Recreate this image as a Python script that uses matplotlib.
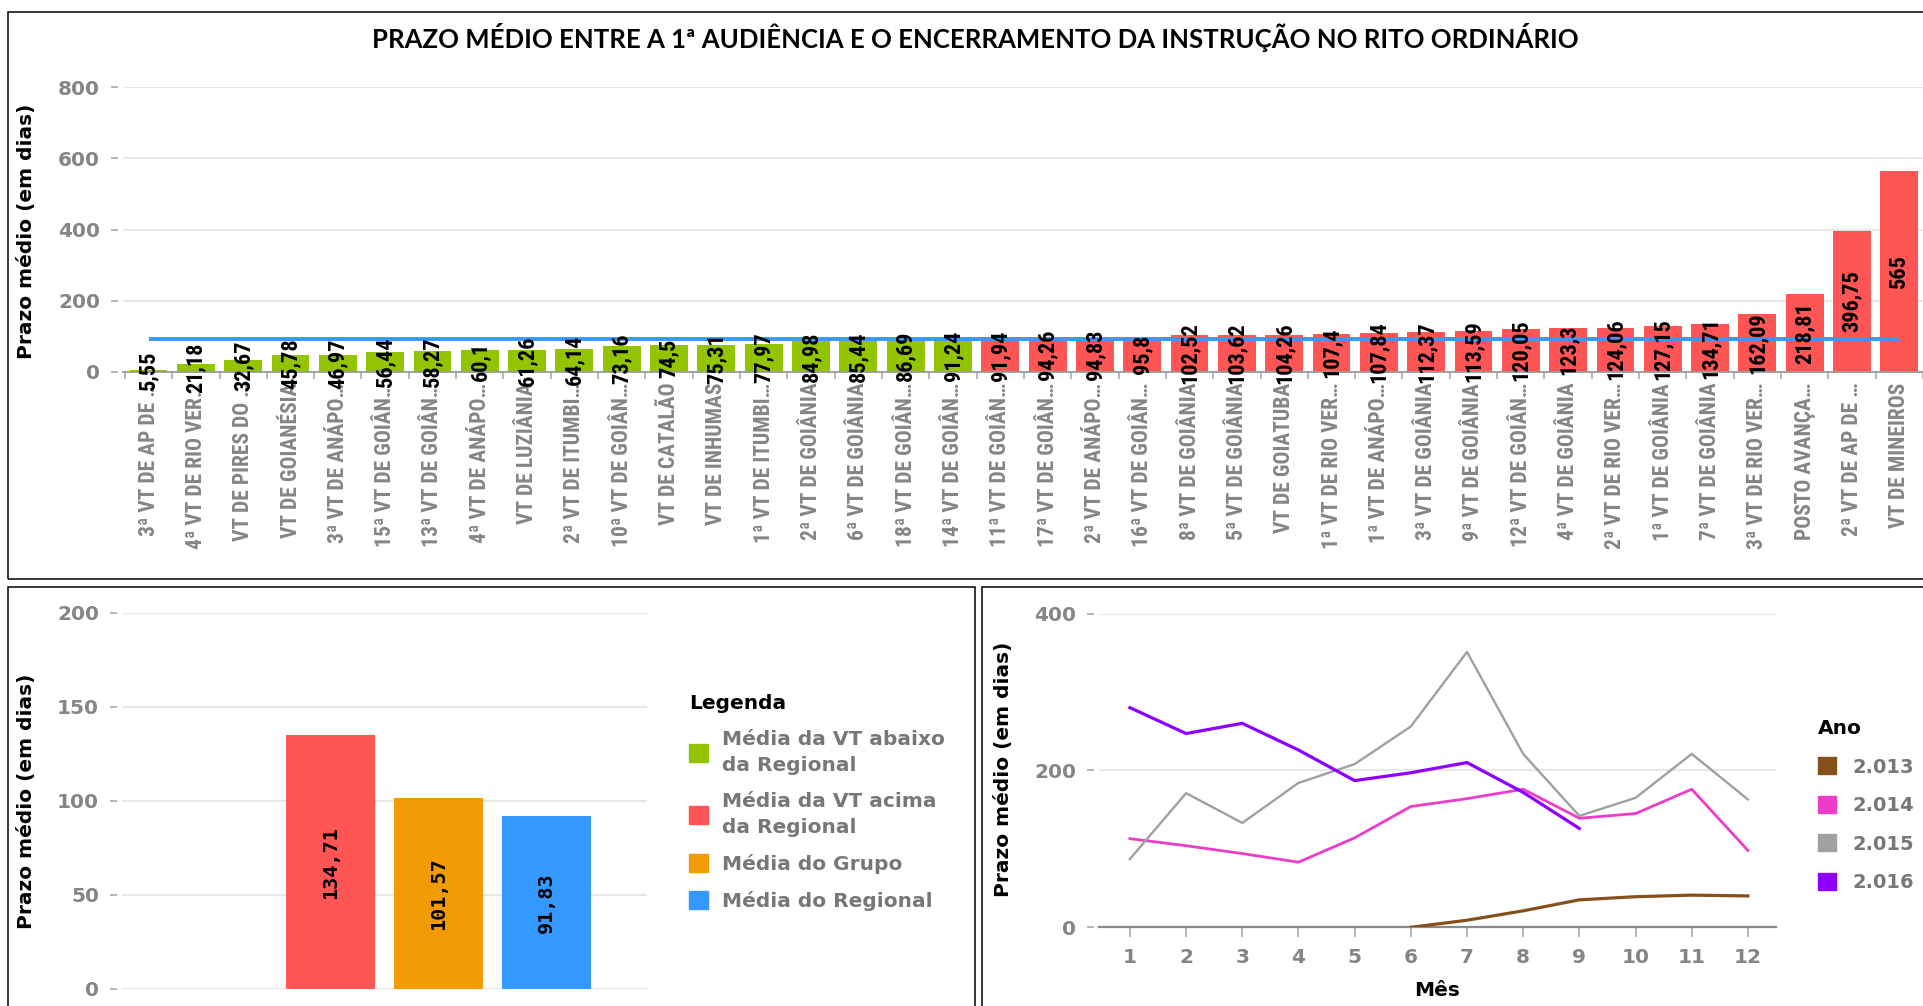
import numpy as np
import matplotlib
matplotlib.use("Agg")
import matplotlib.pyplot as plt
from matplotlib import font_manager as fm
from matplotlib.patches import Rectangle, Patch

# data
vt_labels = [
    "3ª VT DE AP DE …", "4ª VT DE RIO VER…", "VT DE PIRES DO …", "VT DE GOIANÉSIA",
    "3ª VT DE ANÁPO…", "15ª VT DE GOIÂN…", "13ª VT DE GOIÂN…", "4ª VT DE ANÁPO…",
    "VT DE LUZIÂNIA", "2ª VT DE ITUMBI…", "10ª VT DE GOIÂN…", "VT DE CATALÃO",
    "VT DE INHUMAS", "1ª VT DE ITUMBI…", "2ª VT DE GOIÂNIA", "6ª VT DE GOIÂNIA",
    "18ª VT DE GOIÂN…", "14ª VT DE GOIÂN…", "11ª VT DE GOIÂN…", "17ª VT DE GOIÂN…",
    "2ª VT DE ANÁPO…", "16ª VT DE GOIÂN…", "8ª VT DE GOIÂNIA", "5ª VT DE GOIÂNIA",
    "VT DE GOIATUBA", "1ª VT DE RIO VER…", "1ª VT DE ANÁPO…", "3ª VT DE GOIÂNIA",
    "9ª VT DE GOIÂNIA", "12ª VT DE GOIÂN…", "4ª VT DE GOIÂNIA", "2ª VT DE RIO VER…",
    "1ª VT DE GOIÂNIA", "7ª VT DE GOIÂNIA", "3ª VT DE RIO VER…", "POSTO AVANÇA…",
    "2ª VT DE AP DE …", "VT DE MINEIROS",
]
vt_values = [
    5.55, 21.18, 32.67, 45.78, 46.97, 56.44, 58.27, 60.1, 61.26, 64.14,
    73.16, 74.5, 75.31, 77.97, 84.98, 85.44, 86.69, 91.24, 91.94, 94.26,
    94.83, 95.8, 102.52, 103.62, 104.26, 107.4, 107.84, 112.37, 113.59, 120.05,
    123.3, 124.06, 127.15, 134.71, 162.09, 218.81, 396.75, 565,
]
media_regional = 91.83

resumo_nomes = ["Média da VT abaixo\nda Regional", "Média da VT acima\nda Regional",
                "Média do Grupo", "Média do Regional"]
resumo_valores = [None, 134.71, 101.57, 91.83]

meses = list(range(1, 13))
anos = ["2.013", "2.014", "2.015", "2.016"]
prazo_2013 = [None, None, None, None, None, 0, 9, 21, 35, 39, 41, 40]
prazo_2014 = [113, 104, 94, 83, 114, 154, 164, 176, 139, 145, 176, 98]
prazo_2015 = [87, 171, 133, 184, 208, 256, 351, 221, 142, 165, 221, 163]
prazo_2016 = [280, 247, 260, 226, 187, 197, 210, 172, 126]

# colours
VERDE, VERMELHO, LARANJA, AZUL = "#92c500", "#ff5555", "#f29b05", "#3598fe"
cores_anos = ["#85501a", "#ec3cc8", "#a0a0a0", "#8e00ff"]
CINZA_TXT = "#858585"
GRID = "#e8e8e8"

W, H = 1923, 1006


def frac(l, t, r, b):
    return [l / W, 1 - b / H, (r - l) / W, (b - t) / H]


def bold_narrow(size):
    for want in ["Liberation Sans Narrow", "DejaVu Sans Condensed", "Noto Sans Condensed",
                 "Roboto Condensed", "Open Sans Condensed"]:
        for f in fm.fontManager.ttflist:
            if f.name == want and f.weight in (700, "bold") and f.style == "normal":
                return fm.FontProperties(fname=f.fname, size=size)
    for f in fm.fontManager.ttflist:
        if f.stretch in ("condensed", "semi-condensed") and f.weight in (700, "bold") \
                and f.style == "normal":
            return fm.FontProperties(fname=f.fname, size=size)
    return fm.FontProperties(family="DejaVu Sans", weight="bold", size=size * 0.85)


def fmt(v):
    return f"{v:g}".replace(".", ",")


def style_yaxis(ax):
    for s in ["top", "right", "left"]:
        ax.spines[s].set_visible(False)
    ax.spines["left"].set_position(("outward", 3.5))
    ax.tick_params(axis="y", length=5, width=1.2, color="#aaaaaa", pad=8,
                   labelsize=14.5, labelcolor=CINZA_TXT)
    for t in ax.get_yticklabels():
        t.set_fontweight("bold")
    ax.grid(axis="y", color=GRID, lw=1.6)
    ax.set_axisbelow(True)


fig = plt.figure(figsize=(W / 100, H / 100), dpi=100)

# panel frames
for l, t, r, b in [(8, 12, 1940, 579), (8, 587, 975, 1020), (982, 587, 1940, 1020)]:
    fig.add_artist(Rectangle((l / W, 1 - b / H), (r - l) / W, (b - t) / H,
                             transform=fig.transFigure, fill=False, ec="black", lw=1.1))

# ---- top chart
ax1 = fig.add_axes(frac(123, 87.3, 1923, 371.7))
x = np.arange(len(vt_values))
cores = [VERDE if v < media_regional else VERMELHO for v in vt_values]
ax1.bar(x, vt_values, width=0.8, color=cores, zorder=2)
ax1.hlines(media_regional, x[0], x[-1], color=AZUL, lw=2.8, zorder=3)
fp_val = bold_narrow(16)
for xi, v in zip(x, vt_values):
    ax1.text(xi, v / 2, fmt(v), rotation=90, ha="center", va="center",
             fontproperties=fp_val, color="black", zorder=4)
ax1.set_xlim(-0.54, len(vt_values) - 0.65)
ax1.set_ylim(0, 800)
ax1.set_yticks([0, 200, 400, 600, 800])
style_yaxis(ax1)
ax1.spines["bottom"].set_color("#9a9a9a")
ax1.spines["bottom"].set_linewidth(1.3)
ax1.set_xticks(x)
ax1.set_xticklabels(vt_labels, rotation=90)
ax1.set_xticks(np.arange(len(vt_values) + 1) - 0.5, minor=True)
ax1.tick_params(axis="x", which="major", length=0, pad=8, labelcolor=CINZA_TXT)
ax1.tick_params(axis="x", which="minor", length=5, width=1.2, color="#aaaaaa")
fp_lab = bold_narrow(15.5)
for t in ax1.get_xticklabels():
    t.set_fontproperties(fp_lab)
fig.text(27 / W, 1 - 231 / H, "Prazo médio (em dias)", rotation=90, ha="center",
         va="center", fontsize=14.5, fontweight="bold")
fig.text(975 / W, 1 - 38 / H,
         "PRAZO MÉDIO ENTRE A 1ª AUDIÊNCIA E O ENCERRAMENTO DA INSTRUÇÃO NO RITO ORDINÁRIO",
         ha="center", va="center", fontsize=18.5, fontweight="bold", family="Lato")

# ---- bottom-left chart
ax2 = fig.add_axes(frac(122, 612.5, 647, 989))
pos = np.arange(len(resumo_valores)) - (len(resumo_valores) - 1) / 2
cores_resumo = [VERDE, VERMELHO, LARANJA, AZUL]
for p, v, c in zip(pos, resumo_valores, cores_resumo):
    if v is None:
        continue
    ax2.bar(p, v, width=0.83, color=c, zorder=2)
    ax2.text(p, v / 2, fmt(v), rotation=90, ha="center", va="center", fontsize=14.5,
             fontweight="bold", family="DejaVu Sans Mono", zorder=3)
ax2.set_xlim(-2.43, 2.43)
ax2.set_ylim(0, 200)
ax2.set_yticks([0, 50, 100, 150, 200])
style_yaxis(ax2)
ax2.spines["bottom"].set_visible(False)
ax2.set_xticks([])
fig.text(27 / W, 1 - 801 / H, "Prazo médio (em dias)", rotation=90, ha="center",
         va="center", fontsize=14.5, fontweight="bold")
leg_handles = [Patch(color=c) for c in cores_resumo]
leg = fig.legend(leg_handles, resumo_nomes, title="Legenda", loc="upper left",
                 bbox_to_anchor=(689 / W, 1 - 694 / H), frameon=False, borderpad=0,
                 borderaxespad=0, handlelength=0.95, handleheight=0.95, handletextpad=0.7,
                 labelspacing=0.85, prop={"size": 14.5, "weight": "bold"},
                 title_fontproperties={"size": 14.5, "weight": "bold"}, labelcolor="#777777")
for t in leg.get_texts():
    t.set_linespacing(1.45)
leg._legend_box.align = "left"

# ---- bottom-right chart
ax3 = fig.add_axes(frac(1099, 613.5, 1776, 927.3))
series = [prazo_2013, prazo_2014, prazo_2015, prazo_2016]
larguras = [2.3, 2.0, 1.7, 2.3]
for ano, ys, c, lw in zip(anos, series, cores_anos, larguras):
    xs = [m for m, y in zip(meses, ys) if y is not None]
    vs = [y for y in ys if y is not None]
    ax3.plot(xs, vs, color=c, lw=lw, label=ano, zorder=3)
ax3.set_xlim(0.45, 12.5)
ax3.set_ylim(0, 400)
ax3.set_yticks([0, 200, 400])
style_yaxis(ax3)
ax3.spines["bottom"].set_color("#8a8a8a")
ax3.spines["bottom"].set_linewidth(1.6)
ax3.set_xticks(meses)
ax3.tick_params(axis="x", length=7, width=1.2, color="#aaaaaa", pad=8,
                labelsize=14.5, labelcolor=CINZA_TXT)
for t in ax3.get_xticklabels():
    t.set_fontweight("bold")
fig.text(1437 / W, 1 - 990 / H, "Mês", ha="center", va="center", fontsize=14.5,
         fontweight="bold")
fig.text(1004 / W, 1 - 769 / H, "Prazo médio (em dias)", rotation=90, ha="center",
         va="center", fontsize=14.5, fontweight="bold")
leg2 = fig.legend([Patch(color=c) for c in cores_anos], anos, title="Ano", loc="upper left",
                  bbox_to_anchor=(1818 / W, 1 - 719 / H), frameon=False, borderpad=0,
                  borderaxespad=0, handlelength=0.95, handleheight=0.95, handletextpad=0.8,
                  labelspacing=1.0, prop={"size": 14, "weight": "bold"},
                  title_fontproperties={"size": 14.5, "weight": "bold"}, labelcolor="#777777")
leg2._legend_box.align = "left"

fig.savefig("out.png", dpi=100)
